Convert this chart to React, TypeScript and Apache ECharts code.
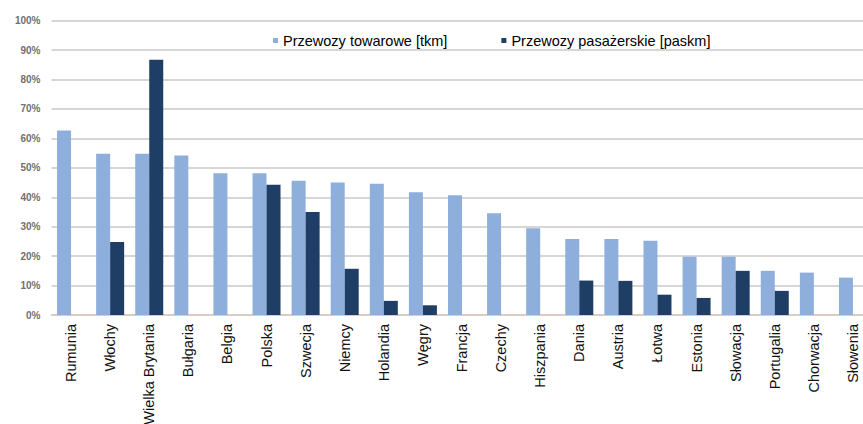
import React, { useEffect, useRef } from "react";
import * as echarts from "echarts";

const categories = [
  "Rumunia", "Włochy", "Wielka Brytania", "Bułgaria", "Belgia", "Polska",
  "Szwecja", "Niemcy", "Holandia", "Węgry", "Francja", "Czechy", "Hiszpania",
  "Dania", "Austria", "Łotwa", "Estonia", "Słowacja", "Portugalia",
  "Chorwacja", "Słowenia",
];

const freight = [
  62.7, 54.8, 54.8, 54.2, 48.2, 48.2, 45.6, 45.0, 44.6, 41.7, 40.7, 34.6,
  29.5, 25.8, 25.8, 25.2, 19.8, 19.8, 15.0, 14.4, 12.7,
];

const passenger = [
  null, 24.8, 86.7, null, null, 44.3, 35.0, 15.7, 4.8, 3.3, null, null,
  null, 11.7, 11.6, 6.9, 5.8, 15.0, 8.2, null, null,
];

const seriesNames = ["Przewozy towarowe [tkm]", "Przewozy pasażerskie [paskm]"];
const yTicks = { min: 0, max: 100, interval: 10 };

export default function App() {
  const ref = useRef<HTMLDivElement>(null);
  useEffect(() => {
    if (!ref.current) return;
    const chart = echarts.init(ref.current, null, { renderer: "svg" });
    chart.setOption({
      animation: false,
      backgroundColor: "#ffffff",
      textStyle: { fontFamily: "'Liberation Sans', Arial, sans-serif" },
      legend: {
        left: 268,
        top: 28,
        icon: "rect",
        itemWidth: 5,
        itemHeight: 5,
        itemGap: 54,
        textStyle: { fontSize: 14.5, color: "#000", fontFamily: "'Liberation Sans', Arial, sans-serif" },
        data: seriesNames,
      },
      grid: {
        left: 51.5,
        top: 20.7,
        width: 821,
        height: 294.3,
        containLabel: false,
        outerBoundsMode: "none",
      },
      xAxis: {
        type: "category",
        data: categories,
        axisTick: { show: false },
        axisLine: { lineStyle: { color: "#d9c9bd", width: 1.5 } },
        axisLabel: {
          rotate: 90,
          interval: 0,
          margin: 9,
          fontSize: 14.5,
          color: "#111",
          padding: [0, 0, 7, 0],
          fontFamily: "'Liberation Sans', Arial, sans-serif",
        },
      },
      yAxis: {
        type: "value",
        min: yTicks.min,
        max: yTicks.max,
        interval: yTicks.interval,
        axisLine: { show: false },
        axisTick: { show: false },
        splitLine: { lineStyle: { color: "#c8c8c8", width: 1.5 } },
        axisLabel: {
          formatter: "{value}%",
          margin: 11,
          fontSize: 10,
          fontWeight: "bold",
          color: "#707070",
          fontFamily: "'Liberation Sans', Arial, sans-serif",
        },
      },
      series: [
        {
          name: seriesNames[0],
          type: "bar",
          data: freight,
          barWidth: 14,
          barGap: "0%",
          itemStyle: { color: "#8eaedb" },
        },
        {
          name: seriesNames[1],
          type: "bar",
          data: passenger,
          barWidth: 14,
          barGap: "0%",
          itemStyle: { color: "#1f3e66" },
        },
      ],
    });
    return () => chart.dispose();
  }, []);
  return (
    <div style={{ position: "fixed", left: 0, top: 0, width: 863, height: 424, background: "#fff" }}>
      <div ref={ref} style={{ width: 863, height: 424 }} />
    </div>
  );
}
